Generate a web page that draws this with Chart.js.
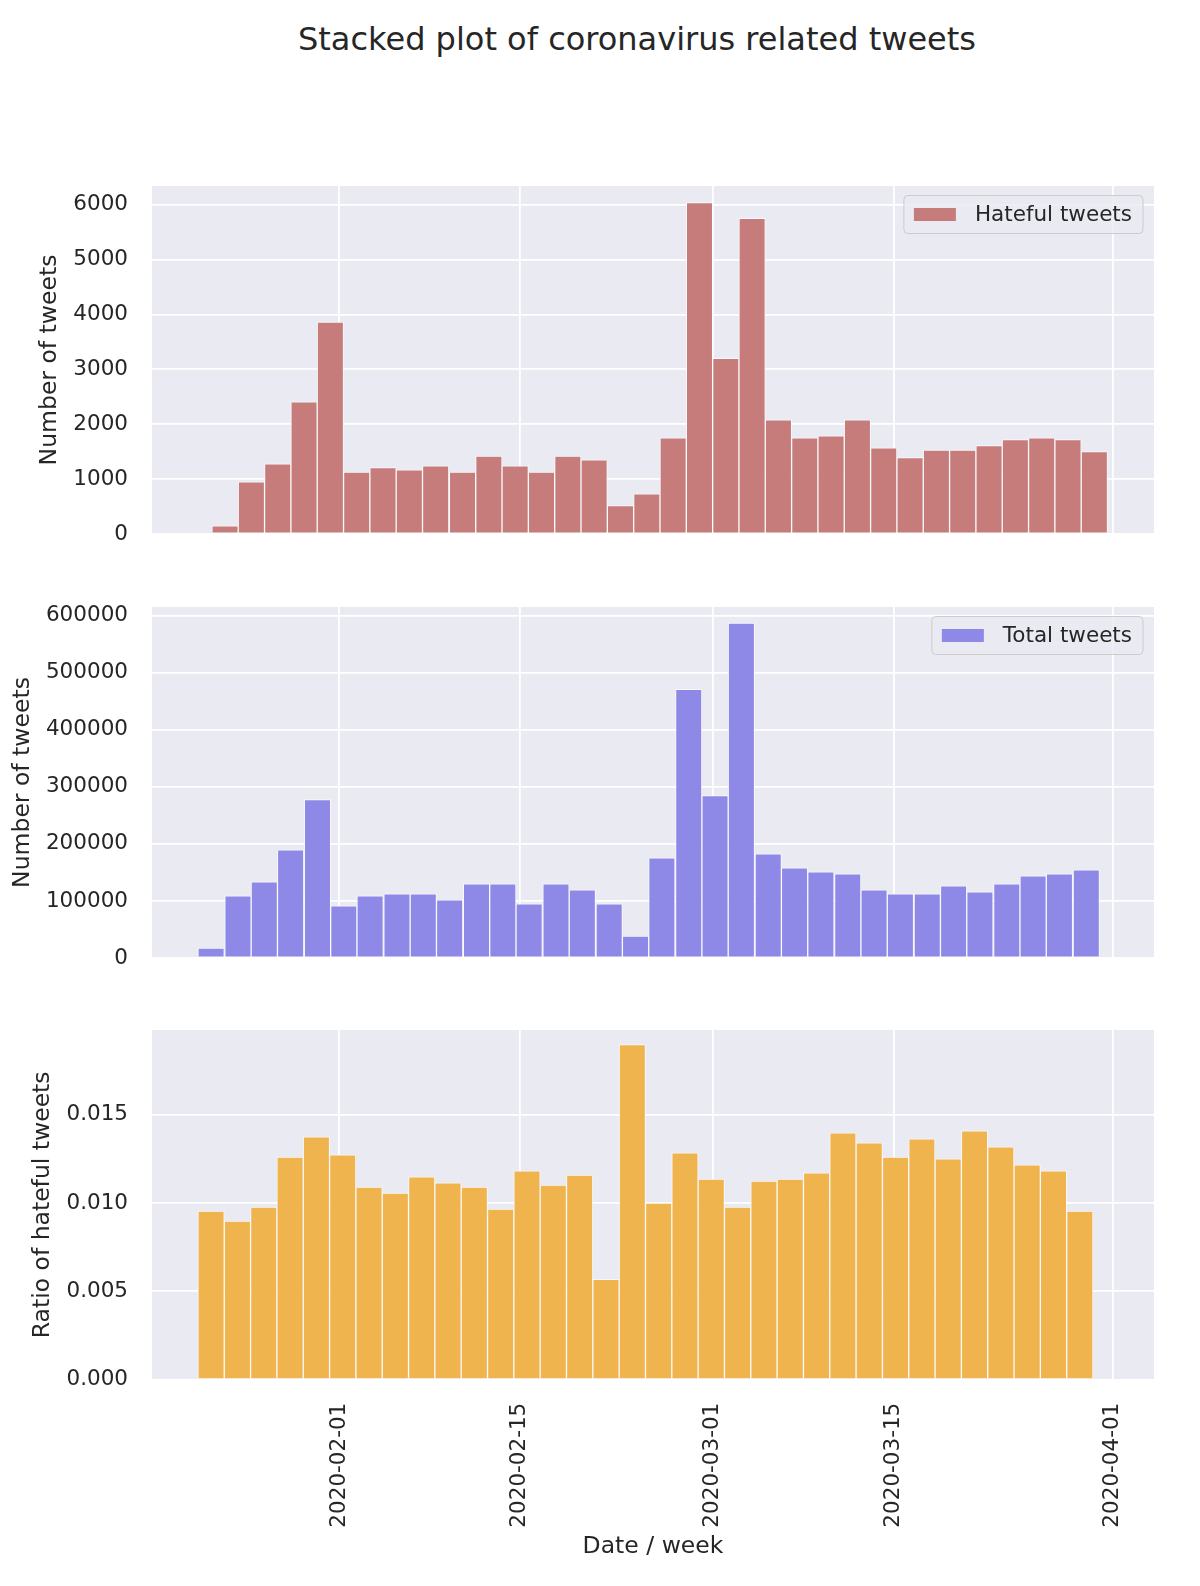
<!DOCTYPE html>
<html>
<head>
<meta charset="utf-8">
<script src="https://cdn.jsdelivr.net/npm/chart.js@4/dist/chart.umd.min.js"></script>
<style>
  html, body { margin: 0; padding: 0; background: #ffffff; }
  body { width: 1200px; height: 1586px; position: relative; overflow: hidden; font-family: "DejaVu Sans", sans-serif; }
  #title { position: absolute; left: 137px; width: 1000px; top: 19px; text-align: center; font-size: 32px; line-height: 40px; color: #262626; }
  canvas { position: absolute; left: 0; }
</style>
</head>
<body>
<div id="title">Stacked plot of coronavirus related tweets</div>
<canvas id="c1" width="1200" height="388" style="top:166px"></canvas>
<canvas id="c2" width="1200" height="391" style="top:587px"></canvas>
<canvas id="c3" width="1200" height="576" style="top:1010px"></canvas>
<script>
// ---- data (bin centres as UTC date-hour strings) ----
const hatefulBins = ['2020-01-23T04','2020-01-25T05','2020-01-27T06','2020-01-29T07','2020-01-31T08','2020-02-02T09','2020-02-04T10','2020-02-06T11','2020-02-08T12','2020-02-10T14','2020-02-12T15','2020-02-14T16','2020-02-16T17','2020-02-18T18','2020-02-20T19','2020-02-22T20','2020-02-24T21','2020-02-26T22','2020-02-28T23','2020-03-02T00','2020-03-04T01','2020-03-06T02','2020-03-08T03','2020-03-10T04','2020-03-12T05','2020-03-14T06','2020-03-16T07','2020-03-18T08','2020-03-20T09','2020-03-22T10','2020-03-24T11','2020-03-26T12','2020-03-28T13','2020-03-30T14'];
const hatefulCounts = [150, 950, 1280, 2410, 3860, 1130, 1210, 1170, 1240, 1130, 1420, 1240, 1130, 1420, 1350, 520, 730, 1750, 6040, 3200, 5750, 2080, 1750, 1790, 2080, 1570, 1390, 1530, 1530, 1610, 1720, 1750, 1720, 1500];

const totalBins = ['2020-01-22T02','2020-01-24T04','2020-01-26T05','2020-01-28T06','2020-01-30T08','2020-02-01T09','2020-02-03T10','2020-02-05T12','2020-02-07T13','2020-02-09T14','2020-02-11T16','2020-02-13T17','2020-02-15T18','2020-02-17T20','2020-02-19T21','2020-02-21T23','2020-02-24T00','2020-02-26T01','2020-02-28T03','2020-03-01T04','2020-03-03T05','2020-03-05T07','2020-03-07T08','2020-03-09T09','2020-03-11T11','2020-03-13T12','2020-03-15T13','2020-03-17T15','2020-03-19T16','2020-03-21T17','2020-03-23T19','2020-03-25T20','2020-03-27T21','2020-03-29T23'];
const totalCounts = [17600, 108900, 133500, 189700, 277500, 91300, 108900, 112400, 112400, 101900, 130000, 130000, 94800, 130000, 119400, 94800, 38600, 175600, 470700, 284500, 586700, 182700, 158000, 151000, 147500, 119400, 112400, 112400, 126500, 115900, 130000, 144000, 147500, 154600];

const ratioBins = ['2020-01-22T02','2020-01-24T03','2020-01-26T04','2020-01-28T05','2020-01-30T06','2020-02-01T07','2020-02-03T08','2020-02-05T09','2020-02-07T10','2020-02-09T11','2020-02-11T12','2020-02-13T13','2020-02-15T14','2020-02-17T15','2020-02-19T16','2020-02-21T17','2020-02-23T18','2020-02-25T19','2020-02-27T20','2020-02-29T21','2020-03-02T22','2020-03-04T23','2020-03-07T00','2020-03-09T01','2020-03-11T02','2020-03-13T03','2020-03-15T04','2020-03-17T05','2020-03-19T06','2020-03-21T07','2020-03-23T08','2020-03-25T09','2020-03-27T10','2020-03-29T11'];
const ratioValues = [0.00955, 0.00898, 0.00977, 0.01261, 0.01375, 0.01273, 0.01091, 0.01057, 0.01148, 0.01114, 0.01091, 0.00966, 0.01182, 0.01102, 0.01159, 0.00568, 0.01898, 0.01000, 0.01284, 0.01136, 0.00977, 0.01125, 0.01136, 0.01171, 0.01398, 0.01341, 0.01261, 0.01364, 0.01250, 0.01409, 0.01318, 0.01216, 0.01182, 0.00955];

const dateTicks = ['2020-02-01', '2020-02-15', '2020-03-01', '2020-03-15', '2020-04-01'];
const xRange = ['2020-01-17T12', '2020-04-04T05'];
const hatefulTicks = [0, 1000, 2000, 3000, 4000, 5000, 6000];
const totalTicks = [0, 100000, 200000, 300000, 400000, 500000, 600000];
const ratioTicks = [0, 0.005, 0.010, 0.015];

// ---- helpers ----
function toDay(s) {
  const p = s.split(/[-T]/).map(Number);
  return Date.UTC(p[0], p[1] - 1, p[2], p[3] || 0) / 864e5;
}
const TXT = '#262626';
const FONT = '"DejaVu Sans", sans-serif';

const bgPlugin = {
  id: 'axbg',
  beforeDraw(chart) {
    const { ctx, chartArea: a } = chart;
    ctx.save();
    ctx.fillStyle = '#EAEAF2';
    ctx.fillRect(a.left, a.top, a.right - a.left, a.bottom - a.top);
    ctx.restore();
  }
};

const legendPlugin = {
  id: 'boxLegend',
  afterDatasetsDraw(chart, args, opts) {
    if (!opts || !opts.show) return;
    const ds = chart.data.datasets[0];
    const ctx = chart.ctx, a = chart.chartArea;
    ctx.save();
    ctx.font = '21.5px ' + FONT;
    const tw = ctx.measureText(ds.label).width;
    const w = 10 + 42 + 19 + tw + 11, h = 38;
    const x = a.right - 11 - w, y = a.top + 9.5;
    ctx.beginPath();
    ctx.roundRect(x, y, w, h, 4);
    ctx.fillStyle = 'rgba(234,234,242,0.8)';
    ctx.fill();
    ctx.lineWidth = 1;
    ctx.strokeStyle = '#cccccc';
    ctx.stroke();
    ctx.fillStyle = ds.backgroundColor;
    ctx.fillRect(x + 10, y + h / 2 - 6.5, 42, 13);
    ctx.fillStyle = TXT;
    ctx.textBaseline = 'middle';
    ctx.textAlign = 'left';
    ctx.fillText(ds.label, x + 10 + 42 + 19, y + h / 2 + 1);
    ctx.restore();
  }
};

function makePanel(id, cfg) {
  const data = cfg.bins.map((b, i) => ({ x: toDay(b), y: cfg.values[i] }));
  return new Chart(document.getElementById(id), {
    type: 'bar',
    data: {
      datasets: [{
        label: cfg.label,
        data: data,
        backgroundColor: cfg.color,
        borderColor: 'rgba(255,255,255,0.7)',
        borderWidth: 1,
        borderSkipped: false,
        categoryPercentage: 1,
        barPercentage: 1
      }]
    },
    options: {
      responsive: false,
      animation: false,
      devicePixelRatio: 1,
      layout: { padding: { left: cfg.padL, right: 46, top: 20, bottom: cfg.padB } },
      plugins: {
        legend: { display: false },
        tooltip: { enabled: false },
        boxLegend: { show: cfg.legend }
      },
      scales: {
        x: {
          type: 'linear',
          offset: false,
          min: toDay(xRange[0]),
          max: toDay(xRange[1]),
          afterBuildTicks: s => { s.ticks = dateTicks.map(t => ({ value: toDay(t) })); },
          afterFit: s => { s.height = cfg.xHeight; s.paddingLeft = 0; s.paddingRight = 0; },
          grid: { color: '#ffffff', lineWidth: 1.8, drawTicks: false, offset: false },
          border: { display: false },
          ticks: {
            display: cfg.showX,
            autoSkip: false,
            minRotation: 90,
            maxRotation: 90,
            padding: 23,
            color: TXT,
            font: { family: FONT, size: 21.5 },
            callback: (v, i) => dateTicks[i]
          },
          title: {
            display: cfg.showX,
            text: 'Date / week',
            color: TXT,
            padding: 0,
            font: { family: FONT, size: 23.5 }
          }
        },
        y: {
          min: 0,
          max: cfg.yMax,
          afterBuildTicks: s => { s.ticks = cfg.yTicks.map(v => ({ value: v })); },
          afterFit: s => { s.width = 152 - cfg.padL; s.paddingTop = 12; s.paddingBottom = 12; },
          grid: { color: '#ffffff', lineWidth: 1.8, drawTicks: false },
          border: { display: false },
          ticks: {
            padding: 24,
            color: TXT,
            font: { family: FONT, size: 21.5 },
            callback: (v, i) => cfg.tickFmt(cfg.yTicks[i])
          },
          title: {
            display: true,
            text: cfg.yTitle,
            color: TXT,
            padding: 0,
            font: { family: FONT, size: 23.5 }
          }
        }
      }
    },
    plugins: [bgPlugin, legendPlugin]
  });
}

makePanel('c1', {
  bins: hatefulBins, values: hatefulCounts, label: 'Hateful tweets', color: '#C67C7B',
  padL: 35.5, padB: 20, xHeight: 0, showX: false, legend: true,
  yMax: 6340, yTicks: hatefulTicks, tickFmt: v => String(v), yTitle: 'Number of tweets'
});
makePanel('c2', {
  bins: totalBins, values: totalCounts, label: 'Total tweets', color: '#8E88E7',
  padL: 9, padB: 20, xHeight: 0, showX: false, legend: true,
  yMax: 615000, yTicks: totalTicks, tickFmt: v => String(v), yTitle: 'Number of tweets'
});
makePanel('c3', {
  bins: ratioBins, values: ratioValues, label: 'Ratio', color: '#F0B44F',
  padL: 29, padB: 25, xHeight: 181.3, showX: true, legend: false,
  yMax: 0.0198, yTicks: ratioTicks, tickFmt: v => v.toFixed(3), yTitle: 'Ratio of hateful tweets'
});
</script>
</body>
</html>
